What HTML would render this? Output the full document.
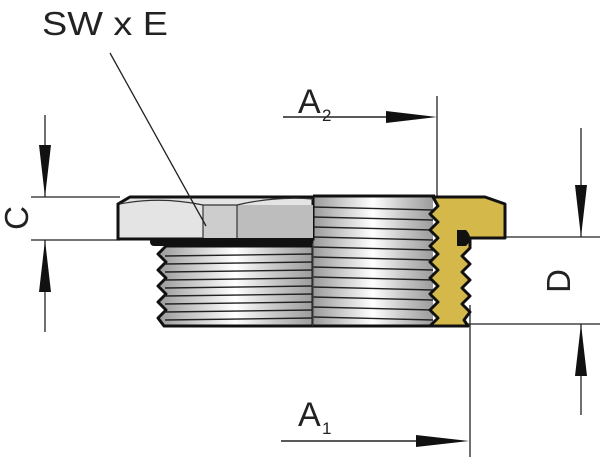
<!DOCTYPE html>
<html><head><meta charset="utf-8"><style>
html,body{margin:0;padding:0;background:#fff;}
svg{display:block;}
text{font-family:"Liberation Sans","DejaVu Sans",sans-serif;fill:#222;}
</style></head><body>
<svg width="600" height="457" viewBox="0 0 600 457" xmlns="http://www.w3.org/2000/svg">
<defs>
<linearGradient id="th" x1="0" x2="1" y1="0" y2="0">
<stop offset="0" stop-color="#9a9a9a"/><stop offset="0.3" stop-color="#d8d8d8"/><stop offset="0.5" stop-color="#ffffff"/><stop offset="0.75" stop-color="#c8c8c8"/><stop offset="1" stop-color="#9c9c9c"/>
</linearGradient>
</defs>
<text x="42" y="35" font-size="33" textLength="126" lengthAdjust="spacingAndGlyphs">SW x E</text>
<!-- A2 -->
<text x="298" y="113" font-size="34">A</text><text x="322" y="121" font-size="17">2</text>
<line x1="283" y1="117" x2="420" y2="117" stroke="#222" stroke-width="1.5"/>
<polygon points="386,111 437,117 386,123" fill="#111"/>
<line x1="437" y1="96" x2="437" y2="196" stroke="#222" stroke-width="1.3"/>
<!-- A1 -->
<text x="298" y="426" font-size="34">A</text><text x="322" y="434" font-size="17">1</text>
<line x1="281" y1="441" x2="440" y2="441" stroke="#222" stroke-width="1.5"/>
<polygon points="416,435 469,441 416,447" fill="#111"/>
<line x1="470" y1="305" x2="470" y2="457" stroke="#222" stroke-width="1.3"/>
<!-- C -->
<line x1="31" y1="197" x2="120" y2="197" stroke="#222" stroke-width="1.3"/>
<line x1="31" y1="240" x2="120" y2="240" stroke="#222" stroke-width="1.3"/>
<line x1="45" y1="115" x2="45" y2="197" stroke="#222" stroke-width="1.3"/>
<polygon points="39,145 45,197 51,145" fill="#111"/>
<line x1="45" y1="240" x2="45" y2="332" stroke="#222" stroke-width="1.3"/>
<polygon points="39,292 45,240 51,292" fill="#111"/>
<text font-size="33" transform="translate(28,218) rotate(-90)" text-anchor="middle">C</text>
<!-- D -->
<line x1="505" y1="237" x2="600" y2="237" stroke="#222" stroke-width="1.3"/>
<line x1="465" y1="324" x2="600" y2="324" stroke="#222" stroke-width="1.3"/>
<line x1="581" y1="128" x2="581" y2="237" stroke="#222" stroke-width="1.3"/>
<polygon points="575,185 581,237 587,185" fill="#111"/>
<line x1="581" y1="324" x2="581" y2="415" stroke="#222" stroke-width="1.3"/>
<polygon points="575,376 581,324 587,376" fill="#111"/>
<text font-size="33" transform="translate(570,281) rotate(-90)" text-anchor="middle">D</text>
<!-- threads body -->
<path d="M166,246 L313,246 L313,326 L164,326 L158,318 L166,310 L158,302 L166,294 L158,286 L166,278 L158,270 L166,262 L158,254 Z" fill="url(#th)" stroke="#111" stroke-width="3" stroke-linejoin="round"/>
<g stroke="#222" stroke-width="1.4">
<line x1="165" y1="256" x2="313" y2="254"/><line x1="165" y1="264" x2="313" y2="262"/><line x1="165" y1="272" x2="313" y2="270"/><line x1="165" y1="280" x2="313" y2="278"/><line x1="165" y1="288" x2="313" y2="286"/><line x1="165" y1="296" x2="313" y2="294"/><line x1="165" y1="304" x2="313" y2="302"/><line x1="165" y1="312" x2="313" y2="310"/><line x1="165" y1="320" x2="313" y2="318"/>
</g>
<rect x="313" y="197" width="120" height="129" fill="url(#th)"/>
<g stroke="#222" stroke-width="1.4">
<line x1="313" y1="207" x2="433" y2="210"/><line x1="313" y1="217" x2="433" y2="220"/><line x1="313" y1="227" x2="433" y2="230"/><line x1="313" y1="237" x2="433" y2="240"/><line x1="313" y1="247" x2="433" y2="250"/><line x1="313" y1="257" x2="433" y2="260"/><line x1="313" y1="267" x2="433" y2="270"/><line x1="313" y1="277" x2="433" y2="280"/><line x1="313" y1="287" x2="433" y2="290"/><line x1="313" y1="297" x2="433" y2="300"/><line x1="313" y1="307" x2="433" y2="310"/><line x1="313" y1="317" x2="433" y2="320"/>
</g>
<line x1="313" y1="197" x2="313" y2="326" stroke="#444" stroke-width="1.2"/>
<line x1="313" y1="326" x2="433" y2="326" stroke="#111" stroke-width="3"/>
<line x1="313" y1="196" x2="435" y2="196" stroke="#111" stroke-width="3"/>
<!-- hex -->
<rect x="150" y="237" width="163" height="9" fill="#111" rx="4"/>
<path d="M118,204 L130,197 L313,197 L313,239 L118,239 Z" fill="#e4e4e4" stroke="#111" stroke-width="3"/>
<rect x="203" y="205" width="34" height="33" fill="#cdcdcd"/>
<rect x="237" y="205" width="76" height="33" fill="#bdbdbd"/>
<line x1="203" y1="205" x2="203" y2="238" stroke="#333" stroke-width="1.2"/>
<line x1="237" y1="205" x2="237" y2="238" stroke="#333" stroke-width="1.2"/>
<path d="M120,204 Q160,196 203,205 L237,205 Q275,196 313,199" fill="none" stroke="#333" stroke-width="1.2"/>
<line x1="110" y1="53" x2="206" y2="226" stroke="#222" stroke-width="1.3"/>
<!-- brass -->
<path d="M433,197 L485,197 L505,204 L505,238 L470,238 L470,248 L462,256 L470,264 L462,272 L470,280 L462,288 L470,296 L462,304 L470,312 L464,320 L468,326 L430,326 L438,318 L430,310 L438,302 L430,294 L438,286 L430,278 L438,270 L430,262 L438,254 L430,246 L438,238 L430,230 L438,222 L430,214 L438,206 Z" fill="#d4b94a" stroke="#111" stroke-width="3" stroke-linejoin="round"/>
<path d="M457,230 L466,230 Q474,238 466,246 L457,246 Z" fill="#111"/>
</svg>
</body></html>
